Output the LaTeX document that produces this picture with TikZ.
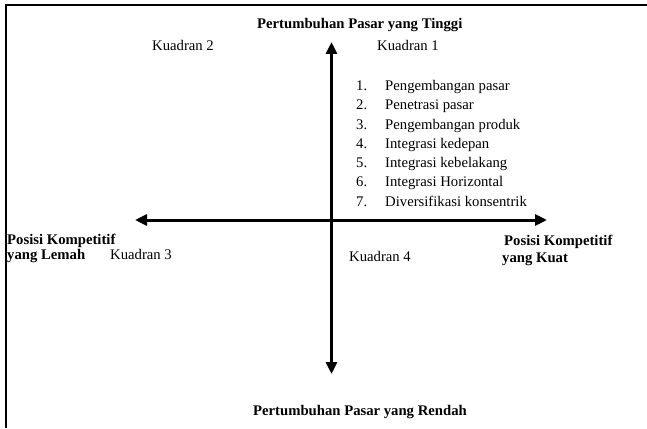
\documentclass[tikz,border=0pt]{standalone}
\usepackage{fontspec}
\setmainfont{Liberation Serif}
\usetikzlibrary{arrows.meta}
\begin{document}
\begin{tikzpicture}[x=1pt,y=-1pt,
  lbl/.style={inner sep=0pt,anchor=base west,font=\fontsize{14.7}{17}\selectfont},
  bold/.style={lbl,font=\fontsize{14.7}{17}\selectfont\bfseries},
  axis/.style={line width=3pt,-{Triangle[length=12pt,width=11pt]}},
  frame/.style={line width=1.8pt}]
\useasboundingbox (0,0) rectangle (647,428);
% frame along the top and the left side
\coordinate (fTL) at (6,5);
\coordinate (fTR) at (647,5);
\coordinate (fBL) at (6,428);
\draw[frame] (fTR) -- (fTL) -- (fBL);

% axes
\coordinate (O) at (331.5,220);
\coordinate (up) at (331.5,42);
\coordinate (down) at (331.5,374);
\coordinate (left) at (135,220);
\coordinate (right) at (547,220);
\draw[axis] (O) -- (up);
\draw[axis] (O) -- (down);
\draw[axis] (O) -- (left);
\draw[axis] (O) -- (right);

% axis titles
\node[bold] (tHigh) at (257,29) {Pertumbuhan Pasar yang Tinggi};
\node[bold] (tLow) at (253,415) {Pertumbuhan Pasar yang Rendah};
\node[bold] (tWeak1) at (7,244) {Posisi Kompetitif};
\node[bold] (tWeak2) at (7,259.5) {yang Lemah};
\node[bold] (tStrong1) at (504,245) {Posisi Kompetitif};
\node[bold] (tStrong2) at (502,262) {yang Kuat};

% quadrant labels
\node[lbl] (q2) at (152,51) {Kuadran 2};
\node[lbl] (q1) at (377,51) {Kuadran 1};
\node[lbl] (q3) at (110,259.5) {Kuadran 3};
\node[lbl] (q4) at (349,261) {Kuadran 4};

% strategy list in quadrant 1
\foreach \i/\t in {1/Pengembangan pasar,2/Penetrasi pasar,3/Pengembangan produk,
  4/Integrasi kedepan,5/Integrasi kebelakang,6/Integrasi Horizontal,
  7/Diversifikasi konsentrik}{
  \node[lbl] (n\i) at (356,{90.5+19.25*(\i-1)}) {\i.};
  \node[lbl] (s\i) at (385,{90.5+19.25*(\i-1)}) {\t};
}
\end{tikzpicture}
\end{document}
